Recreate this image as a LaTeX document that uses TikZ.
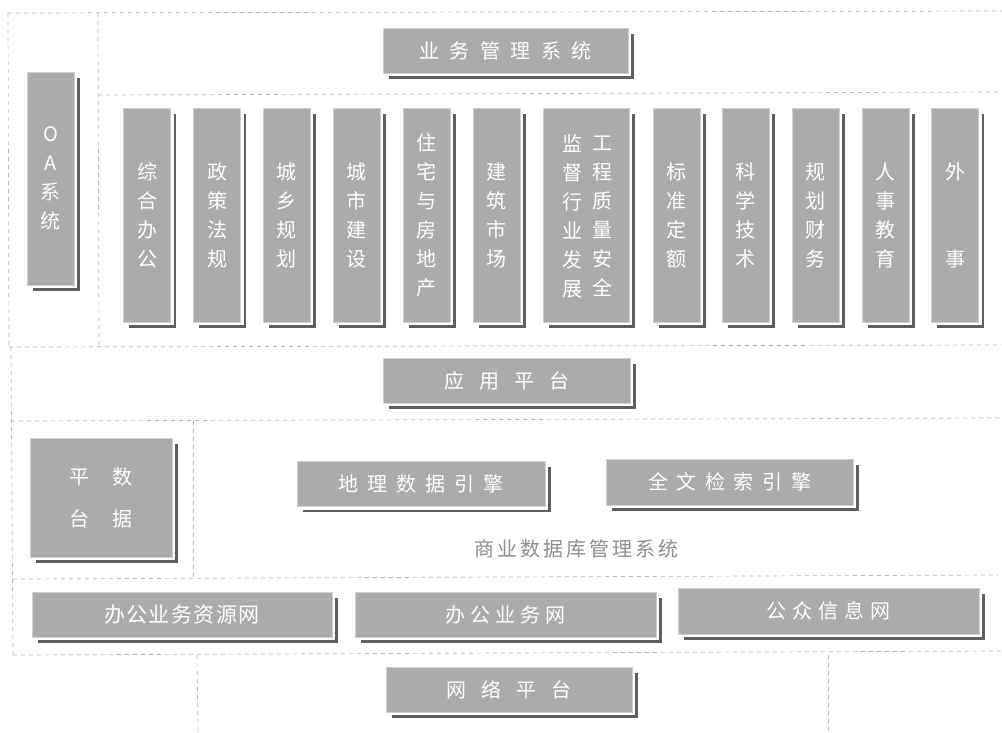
\documentclass[tikz,border=0pt]{standalone}
\usepackage{fontspec}
\newfontfamily\cjk{Noto Sans CJK SC}
\usetikzlibrary{shadows}
\definecolor{boxfill}{HTML}{ABABAB}
\definecolor{boxedge}{HTML}{D0D0D0}
\definecolor{boxshadow}{HTML}{5E5E5E}
\definecolor{dashgray}{HTML}{B8B8B8}
\definecolor{labelgray}{HTML}{8E8E8E}
\tikzset{
  frame/.style={draw=dashgray, line width=0.7pt, dash pattern=on 4pt off 4pt},
  bevelbox/.style={fill=boxfill, draw=boxedge, line width=0.8pt, inner sep=0pt, text=white,
    general shadow={fill=boxshadow, shadow xshift=5.5pt, shadow yshift=-5.5pt},
    general shadow={fill=white, shadow xshift=3pt, shadow yshift=-3pt}},
  hbox/.style={bevelbox, minimum height=45pt, font=\cjk\fontsize{20}{24}\selectfont},
  colbox/.style={bevelbox, minimum width=47pt, minimum height=214pt, align=center,
    font=\cjk\fontsize{20}{29}\selectfont},
  coltext/.style={text=white, inner sep=0pt, align=center, font=\cjk\fontsize{20}{29}\selectfont},
  plain/.style={text=labelgray, inner sep=0pt, font=\cjk\fontsize{20}{22}\selectfont}
}
\begin{document}
\begin{tikzpicture}[x=1pt,y=-1pt]
\useasboundingbox (0,0) rectangle (1002,732);
\fill[white] (0,0) rectangle (1002,732);
% dashed layer frames
\draw[frame] (8,13) -- (1002,11);
\draw[frame] (8,13) -- (9,347);
\draw[frame] (11,347) -- (13,655);
\draw[frame] (98,13) -- (99,347);
\draw[frame] (98,95) -- (1002,92);
\draw[frame] (9,347) -- (1002,345);
\draw[frame] (11,421) -- (1002,418);
\draw[frame] (193,421) -- (193,579);
\draw[frame] (13,579) -- (998,575);
\draw[frame] (13,655) -- (1002,651);
\draw[frame] (197,655) -- (198,732);
\draw[frame] (828,655) -- (828,732);
% top
\node[hbox, minimum width=245pt] (ywgl) at (505.5,50.5) {业\kern10.5pt 务\kern10.5pt 管\kern10.5pt 理\kern10.5pt 系\kern10.5pt 统};
\node[colbox, minimum height=213pt] (oa) at (50.5,178.5) {O\\A\\系\\统};
% columns
\node[colbox] (c1) at (147,215) {综\\合\\办\\公};
\node[colbox] (c2) at (217,215) {政\\策\\法\\规};
\node[colbox] (c3) at (286.5,215) {城\\乡\\规\\划};
\node[colbox] (c4) at (356.5,215) {城\\市\\建\\设};
\node[colbox] (c5) at (426.5,215) {住\\宅\\与\\房\\地\\产};
\node[colbox] (c6) at (496.5,215) {建\\筑\\市\\场};
\node[colbox, minimum width=86pt] (c7) at (586,215) {};
\node[coltext] (c7l) at (572,216) {监\\督\\行\\业\\发\\展};
\node[coltext] (c7r) at (602,216) {工\\程\\质\\量\\安\\全};
\node[colbox] (c8) at (676.5,215) {标\\准\\定\\额};
\node[colbox] (c9) at (745.5,215) {科\\学\\技\\术};
\node[colbox] (c10) at (815.5,215) {规\\划\\财\\务};
\node[colbox] (c11) at (885.5,215) {人\\事\\教\\育};
\node[colbox] (c12) at (955,215) {外\\[58pt]事};
% application platform
\node[hbox, minimum width=247pt] (yypt) at (506.5,380.5) {应\kern15pt 用\kern15pt 平\kern15pt 台};
% data platform
\node[bevelbox, minimum width=142pt, minimum height=119pt, align=center,
      font=\cjk\fontsize{20}{42}\selectfont] (sjpt) at (101,497.5) {平\kern23pt 数\\台\kern23pt 据};
\node[hbox, minimum width=248pt] (dlsj) at (421,484) {地\kern9pt 理\kern9pt 数\kern9pt 据\kern9pt 引\kern9pt 擎};
\node[hbox, minimum width=247pt, minimum height=46pt] (qwjs) at (729.5,482) {全\kern8.6pt 文\kern8.6pt 检\kern8.6pt 索\kern8.6pt 引\kern8.6pt 擎};
\node[plain] (sysk) at (576,549) {商\kern3pt 业\kern3pt 数\kern3pt 据\kern3pt 库\kern3pt 管\kern3pt 理\kern3pt 系\kern3pt 统};
% networks
\node[hbox, minimum width=300pt, font=\cjk\fontsize{21}{24}\selectfont] (zyw) at (182,614.5) {办\kern1.5pt 公\kern1.5pt 业\kern1.5pt 务\kern1.5pt 资\kern1.5pt 源\kern1.5pt 网};
\node[hbox, minimum width=301pt] (ywnet) at (505.5,614.5) {办\kern5pt 公\kern5pt 业\kern5pt 务\kern5pt 网};
\node[hbox, minimum width=301pt, minimum height=46pt] (gzxx) at (828.5,611) {公\kern6pt 众\kern6pt 信\kern6pt 息\kern6pt 网};
\node[hbox, minimum width=246pt] (wlpt) at (509,689.5) {网\kern15pt 络\kern15pt 平\kern15pt 台};
\end{tikzpicture}
\end{document}
